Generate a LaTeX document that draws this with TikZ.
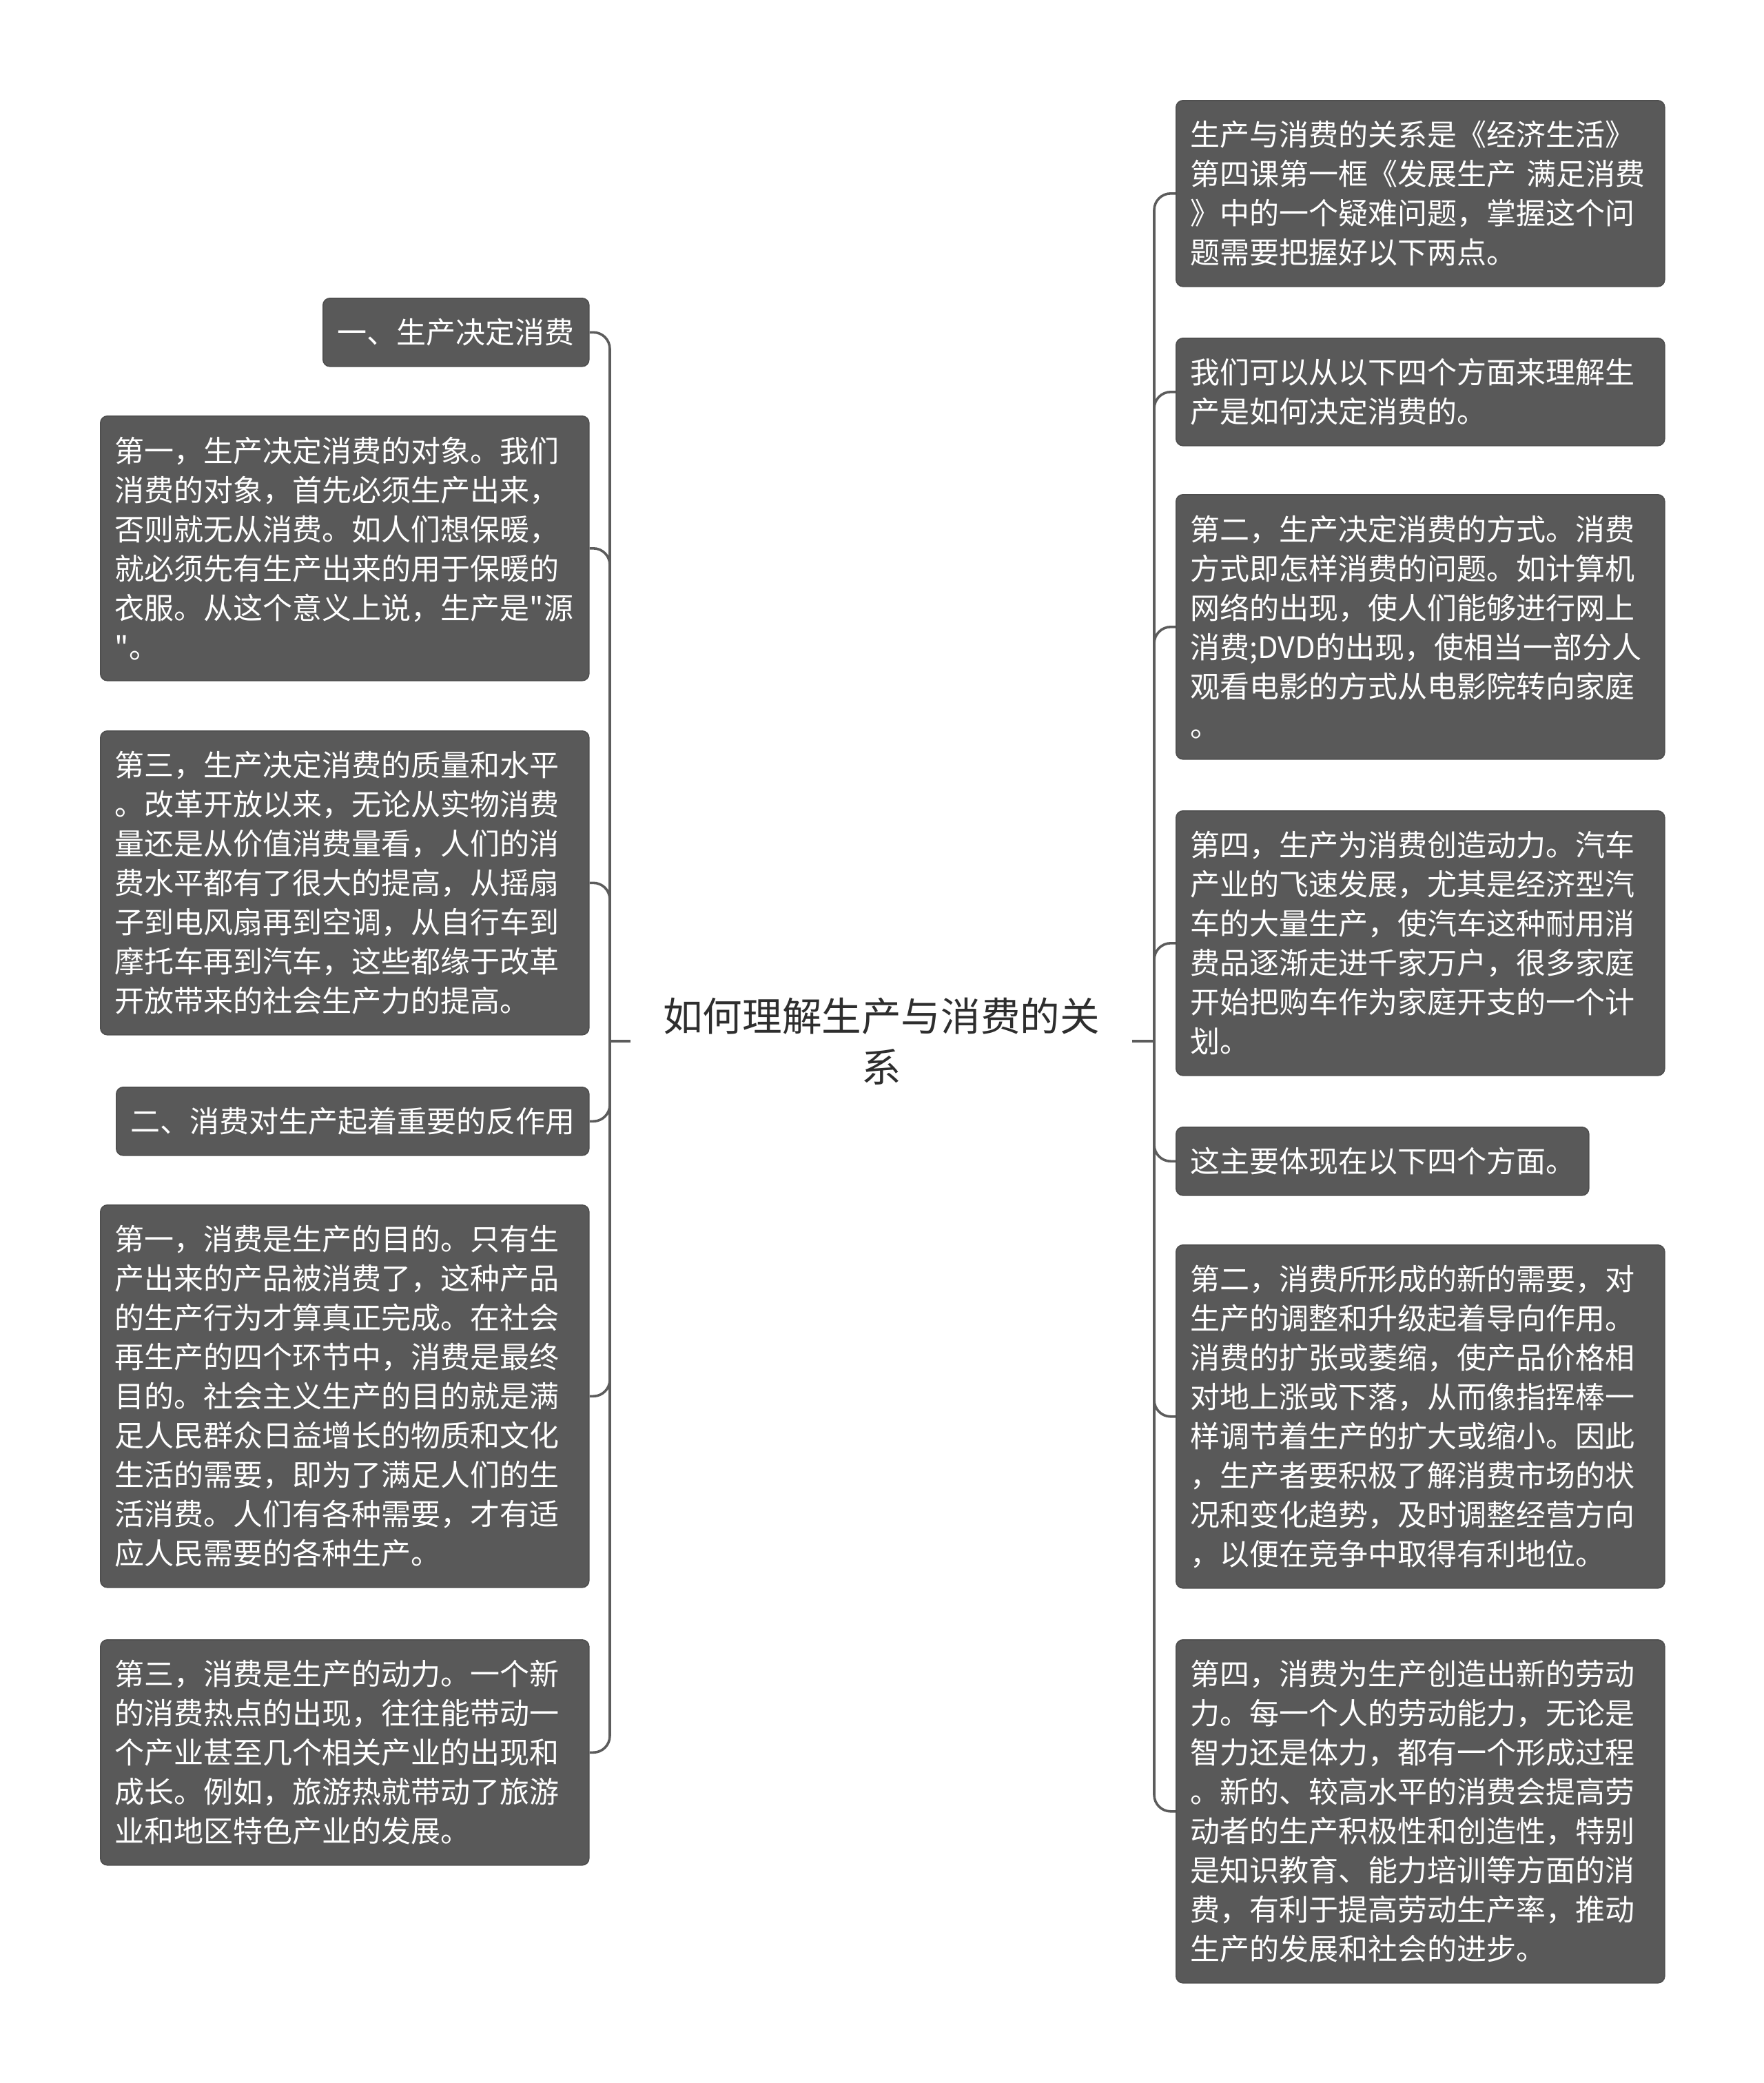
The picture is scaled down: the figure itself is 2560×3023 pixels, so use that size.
\documentclass[tikz,border=0pt]{standalone}
\usepackage{fontspec}
\setmainfont{Noto Sans CJK SC}[Ligatures=TeXOff]
\definecolor{boxgray}{HTML}{595959}
\definecolor{boxedge}{HTML}{4E4E4E}
\definecolor{linegray}{HTML}{5C5C5C}
\definecolor{titlecol}{HTML}{2E2E2E}
\begin{document}
\begin{tikzpicture}[x=0.25pt,y=-0.25pt,
  box/.style={rounded corners=2.5pt, fill=boxgray, draw=boxedge, line width=0.4pt,
    text=white, align=left, inner xsep=5.25pt, inner ysep=0pt, anchor=north west,
    font=\fontsize{10.75pt}{14.25pt}\selectfont},
  conn/.style={draw=linegray, line width=0.9pt, rounded corners=6pt},
  titlebox/.style={text=titlecol, align=center, inner sep=0pt, text width=181.5pt,
    font=\fontsize{14.4pt}{18.5pt}\selectfont}]
\useasboundingbox (0,0) rectangle (2560,3023);
\fill[white] (0,0) rectangle (2560,3023);

\node[titlebox] (title) at (1279,1511) {如何理解生产与消费的关\\系};
\coordinate (lj) at (885,1511);
\coordinate (rj) at (1675,1511);

% left side
\node[box, text width=86pt, minimum height=24.75pt] (b1) at (468,432) {一、生产决定消费};
\node[box, text width=166.75pt, minimum height=96pt] (b2) at (145,603) {第一，生产决定消费的对象。我们\\消费的对象，首先必须生产出来，\\否则就无从消费。如人们想保暖，\\就必须先有生产出来的用于保暖的\\衣服。从这个意义上说，生产是"源\\"。};
\node[box, text width=166.75pt, minimum height=110.25pt] (b3) at (145,1060) {第三，生产决定消费的质量和水平\\。改革开放以来，无论从实物消费\\量还是从价值消费量看，人们的消\\费水平都有了很大的提高，从摇扇\\子到电风扇再到空调，从自行车到\\摩托车再到汽车，这些都缘于改革\\开放带来的社会生产力的提高。};
\node[box, text width=161pt, minimum height=24.75pt] (b4) at (168,1577) {二、消费对生产起着重要的反作用};
\node[box, text width=166.75pt, minimum height=138.75pt] (b5) at (145,1748) {第一，消费是生产的目的。只有生\\产出来的产品被消费了，这种产品\\的生产行为才算真正完成。在社会\\再生产的四个环节中，消费是最终\\目的。社会主义生产的目的就是满\\足人民群众日益增长的物质和文化\\生活的需要，即为了满足人们的生\\活消费。人们有各种需要，才有适\\应人民需要的各种生产。};
\node[box, text width=166.75pt, minimum height=81.75pt] (b6) at (145,2379) {第三，消费是生产的动力。一个新\\的消费热点的出现，往往能带动一\\个产业甚至几个相关产业的出现和\\成长。例如，旅游热就带动了旅游\\业和地区特色产业的发展。};

% right side
\node[box, text width=166.75pt, minimum height=67.5pt] (r1) at (1706,145) {生产与消费的关系是《经济生活》\\第四课第一框《发展生产~满足消费\\》中的一个疑难问题，掌握这个问\\题需要把握好以下两点。};
\node[box, text width=166.75pt, minimum height=39pt] (r2) at (1706,490) {我们可以从以下四个方面来理解生\\产是如何决定消费的。};
\node[box, text width=166.75pt, minimum height=96pt] (r3) at (1706,717) {第二，生产决定消费的方式。消费\\方式即怎样消费的问题。如计算机\\网络的出现，使人们能够进行网上\\消费;DVD的出现，使相当一部分人\\观看电影的方式从电影院转向家庭\\。};
\node[box, text width=166.75pt, minimum height=96pt] (r4) at (1706,1176) {第四，生产为消费创造动力。汽车\\产业的飞速发展，尤其是经济型汽\\车的大量生产，使汽车这种耐用消\\费品逐渐走进千家万户，很多家庭\\开始把购车作为家庭开支的一个计\\划。};
\node[box, text width=139.25pt, minimum height=24.75pt] (r5) at (1706,1635) {这主要体现在以下四个方面。};
\node[box, text width=166.75pt, minimum height=124.5pt] (r6) at (1706,1806) {第二，消费所形成的新的需要，对\\生产的调整和升级起着导向作用。\\消费的扩张或萎缩，使产品价格相\\对地上涨或下落，从而像指挥棒一\\样调节着生产的扩大或缩小。因此\\，生产者要积极了解消费市场的状\\况和变化趋势，及时调整经营方向\\，以便在竞争中取得有利地位。};
\node[box, text width=166.75pt, minimum height=124.5pt] (r7) at (1706,2379) {第四，消费为生产创造出新的劳动\\力。每一个人的劳动能力，无论是\\智力还是体力，都有一个形成过程\\。新的、较高水平的消费会提高劳\\动者的生产积极性和创造性，特别\\是知识教育、能力培训等方面的消\\费，有利于提高劳动生产率，推动\\生产的发展和社会的进步。};

% connectors
\draw[conn] (title.west) -- (lj);
\draw[conn] (title.east) -- (rj);
\foreach \n in {b1,b2,b3,b4,b5,b6} {\draw[conn] (lj) |- (\n.east);}
\foreach \n in {r1,r2,r3,r4,r5,r6,r7} {\draw[conn] (rj) |- (\n.west);}
\end{tikzpicture}
\end{document}
